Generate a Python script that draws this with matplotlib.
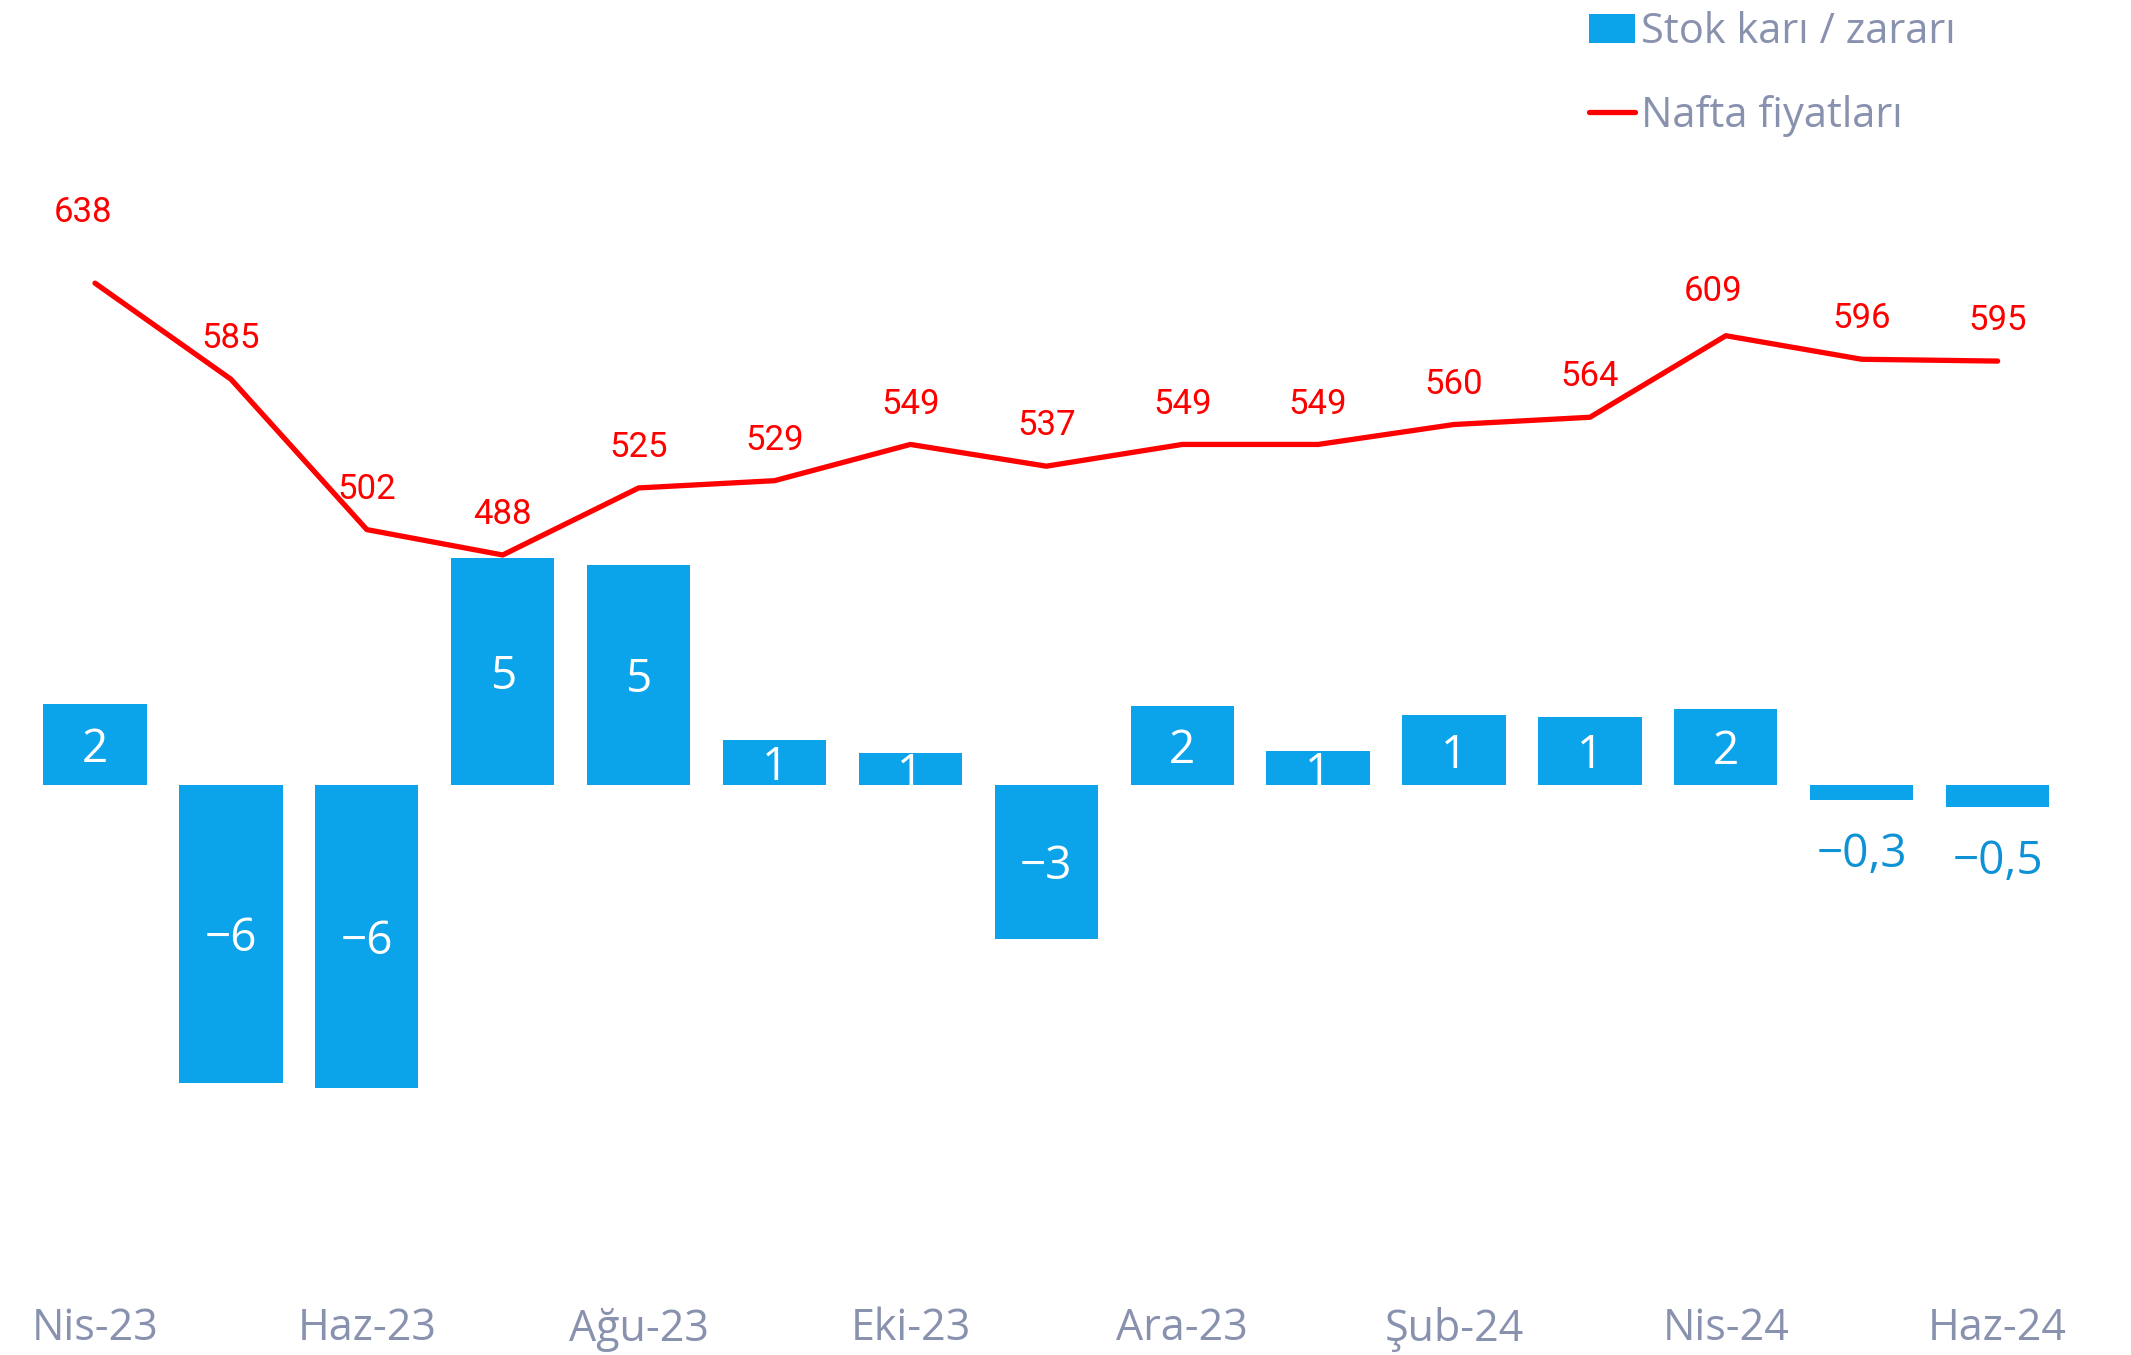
import matplotlib.pyplot as plt
from matplotlib.patches import Patch
from matplotlib.lines import Line2D

# Aylar
months = ['Nis-23', 'May-23', 'Haz-23', 'Tem-23', 'Ağu-23', 'Eyl-23', 'Eki-23', 'Kas-23',
          'Ara-23', 'Oca-24', 'Şub-24', 'Mar-24', 'Nis-24', 'May-24', 'Haz-24']

# Stok karı / zararı (çubuklar)
stock_pl = [1.69, -6.26, -6.37, 4.77, 4.63, 0.94, 0.66, -3.23, 1.66, 0.71, 1.46, 1.43, 1.60, -0.31, -0.46]
stock_labels = ['2', '−6', '−6', '5', '5', '1', '1', '−3', '2', '1', '1', '1', '2', '−0,3', '−0,5']

# Nafta fiyatları (çizgi)
naphtha = [638, 585, 502, 488, 525, 529, 549, 537, 549, 549, 560, 564, 609, 596, 595]

BAR_BLUE = '#0BA3EA'
LABEL_BLUE = '#0E92D6'
RED = '#FF0000'
GREY = '#8891AE'

fig = plt.figure(figsize=(21.31, 13.55), dpi=100)
ax = fig.add_axes([0.0127, 0.10, 0.9566, 0.88])
ax2 = ax.twinx()

x = list(range(len(months)))
ax.bar(x, stock_pl, width=0.76, color=BAR_BLUE, zorder=2)
ax.set_xlim(-0.5, 14.5)
ax.set_ylim(-9.13, 15.92)

# çubuk etiketleri
for i, (v, lab) in enumerate(zip(stock_pl, stock_labels)):
    if abs(v) >= 0.5:
        ax.annotate(lab, (i, v / 2), xytext=(0, -4), textcoords='offset points',
                    ha='center', va='center', color='white',
                    fontsize=33, family='Open Sans', zorder=3)
    else:
        ax.annotate(lab, (i, v), xytext=(0, -40), textcoords='offset points',
                    ha='center', va='center', color=LABEL_BLUE, fontsize=33,
                    family='Open Sans')

ax2.plot(x, naphtha, color=RED, lw=3.8, solid_capstyle='round', zorder=4)
ax2.set_ylim(121.3, 779.3)

# çizgi etiketleri (bazıları kaydırılmış)
shift = {0: (-9, 51), 12: (-9, 32)}
for i, v in enumerate(naphtha):
    dx, dy = shift.get(i, (0, 29))
    ax2.annotate(str(v), (i, v), xytext=(dx, dy), textcoords='offset points',
                 ha='center', va='center', color=RED, fontsize=25, family='Roboto')

for a in (ax, ax2):
    for s in a.spines.values():
        s.set_visible(False)
    a.set_yticks([])

ax.set_xticks(x[::2])
ax.set_xticklabels(months[::2], fontsize=31, color=GREY, family='Open Sans')
ax.tick_params(axis='x', length=0, pad=63)

handles = [Patch(facecolor=BAR_BLUE, edgecolor='none'),
           Line2D([0], [0], color=RED, lw=3.8, solid_capstyle='round')]
leg = fig.legend(handles, ['Stok karı / zararı', 'Nafta fiyatları'],
                 loc='upper left', bbox_to_anchor=(0.738, 1.004), frameon=False,
                 prop={'family': 'Open Sans', 'size': 30}, labelcolor=GREY,
                 handlelength=1.1, handleheight=0.7, handletextpad=0.15,
                 labelspacing=1.0, borderaxespad=0.0)

fig.savefig('out.png', dpi=100)
